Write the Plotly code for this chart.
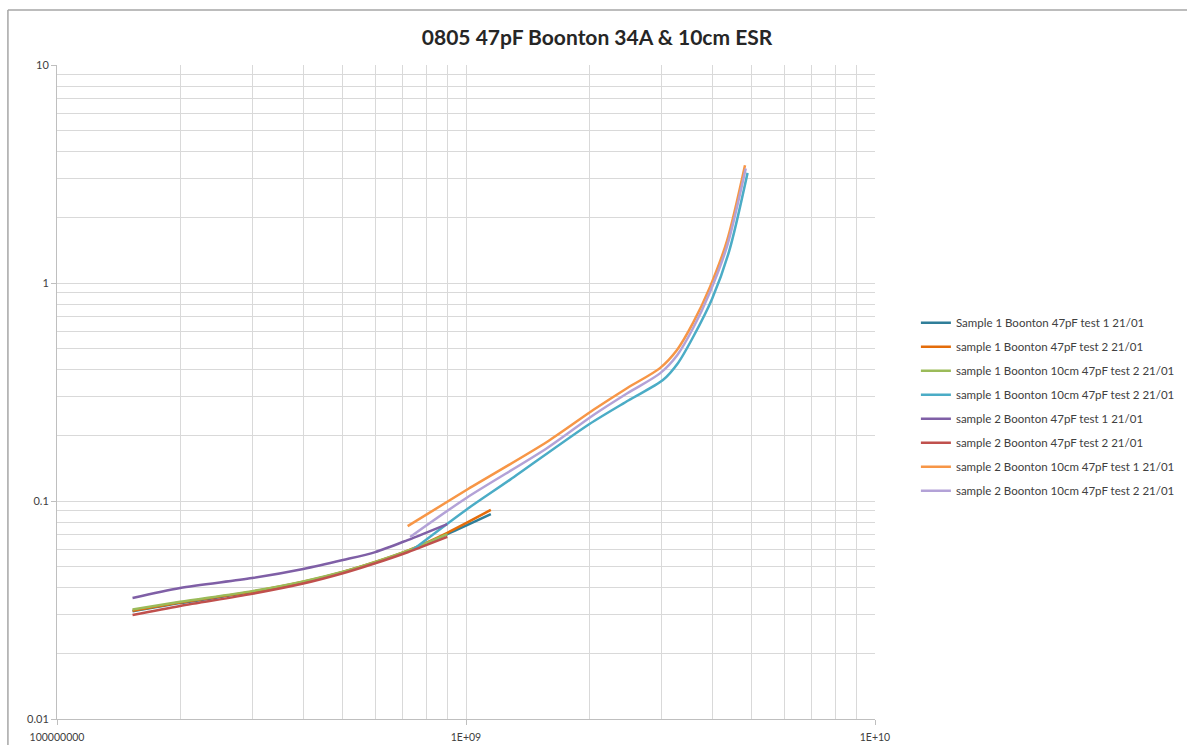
import plotly.graph_objects as go

# ---- data ----
names = [
    "Sample 1 Boonton 47pF test 1 21/01",
    "sample 1 Boonton 47pF test 2 21/01",
    "sample 1 Boonton 10cm 47pF test 2 21/01",
    "sample 1 Boonton 10cm 47pF test 2 21/01",
    "sample 2 Boonton 47pF test 1 21/01",
    "sample 2 Boonton 47pF test 2 21/01",
    "sample 2 Boonton 10cm 47pF test 1 21/01",
    "sample 2 Boonton 10cm 47pF test 2 21/01",
]
colors = ["#2F7E99", "#E46C0A", "#9BBB59", "#4BACC6",
          "#7F5FA6", "#C0504D", "#F79646", "#B3A2D7"]

f_low = [1.53e8, 2.0e8, 3.0e8, 4.0e8, 5.0e8, 6.0e8, 7.2e8, 9.0e8, 1.15e9]
f_low_short = [1.53e8, 2.0e8, 3.0e8, 4.0e8, 5.0e8, 6.0e8, 7.2e8, 9.0e8]

s1_test1 = [0.0312, 0.0340, 0.0382, 0.0424, 0.0471, 0.0522, 0.0588, 0.0705, 0.0871]
s1_test2 = [0.0314, 0.0342, 0.0384, 0.0426, 0.0473, 0.0525, 0.0592, 0.0715, 0.0910]
s1_10cm_test2a = [0.0318, 0.0345, 0.0386, 0.0428, 0.0474, 0.0526, 0.0592, 0.0705]
s2_test1 = [0.0359, 0.0399, 0.0443, 0.0488, 0.0536, 0.0583, 0.0662, 0.0784]
s2_test2 = [0.0300, 0.0330, 0.0375, 0.0418, 0.0466, 0.0518, 0.0582, 0.0684]

f_cyan = [7.4e8, 1.0e9, 1.28e9, 2.0e9, 2.5e9, 3.03e9, 3.3e9, 3.6e9, 4.0e9, 4.4e9, 4.88e9]
s1_10cm_test2b = [0.0596, 0.091, 0.125, 0.225, 0.290, 0.359, 0.430, 0.570, 0.85, 1.40, 3.20]

f_orange = [7.2e8, 1.0e9, 1.58e9, 2.05e9, 2.48e9, 2.98e9, 3.28e9, 3.59e9, 3.95e9, 4.35e9, 4.81e9]
s2_10cm_test1 = [0.0767, 0.112, 0.187, 0.262, 0.330, 0.407, 0.493, 0.656, 0.96, 1.57, 3.47]

f_lav = [7.3e8, 1.0e9, 1.58e9, 2.05e9, 2.48e9, 2.98e9, 3.28e9, 3.59e9, 3.95e9, 4.35e9, 4.83e9]
s2_10cm_test2 = [0.0684, 0.103, 0.175, 0.248, 0.312, 0.385, 0.465, 0.620, 0.91, 1.48, 3.35]

series_x = [f_low, f_low, f_low_short, f_cyan, f_low_short, f_low_short, f_orange, f_lav]
series_y = [s1_test1, s1_test2, s1_10cm_test2a, s1_10cm_test2b,
            s2_test1, s2_test2, s2_10cm_test1, s2_10cm_test2]

x_tickvals = [1e8, 1e9, 1e10]
x_ticktext = ["100000000", "1E+09", "1E+10"]
y_tickvals = [0.01, 0.1, 1, 10]
y_ticktext = ["0.01", "0.1", "1", "10"]

x_minor = [m * 10 ** d for d in (8, 9) for m in range(2, 10)]
y_minor = [m * 10 ** d for d in (-2, -1, 0) for m in range(2, 10)]

fig = go.Figure()
for i, (nm, xs, ys, c) in enumerate(zip(names, series_x, series_y, colors)):
    fig.add_trace(go.Scatter(
        x=xs, y=ys, mode="lines", name=nm, legendgroup=f"g{i}",
        line=dict(color=c, width=2.5, shape="spline", smoothing=0.8),
    ))

grid_c = "#D9D9D9"
fnt = "Lato, Liberation Sans, sans-serif"
fig.update_layout(
    width=1187, height=745,
    margin=dict(l=57, r=312, t=65, b=26, autoexpand=False),
    paper_bgcolor="white", plot_bgcolor="white",
    font=dict(family=fnt, color="#404040", size=10),
    title=dict(text="<b>0805 47pF Boonton 34A &amp; 10cm ESR</b>",
               xref="container", x=0.503, xanchor="center",
               yref="container", y=0.949, yanchor="middle",
               font=dict(size=21, color="#262626", family=fnt)),
    showlegend=True,
    legend=dict(x=1.05, xanchor="left", y=0.628, yanchor="top",
                tracegroupgap=5, font=dict(size=11.5, color="#404040"),
                bgcolor="rgba(0,0,0,0)", itemwidth=30),
    xaxis=dict(type="log", range=[8, 10], tickvals=x_tickvals, ticktext=x_ticktext,
               automargin=False,
               showgrid=True, gridcolor=grid_c, gridwidth=1,
               showline=True, linecolor="#BFBFBF", linewidth=1,
               ticks="outside", ticklen=5, tickcolor="#BFBFBF",
               ticklabelstandoff=3,
               minor=dict(tickvals=x_minor, showgrid=True, gridcolor=grid_c, gridwidth=1, ticks=""),
               zeroline=False, tickfont=dict(size=10.5, color="#404040")),
    yaxis=dict(type="log", range=[-2, 1], tickvals=y_tickvals, ticktext=y_ticktext,
               automargin=False,
               showgrid=True, gridcolor=grid_c, gridwidth=1,
               showline=True, linecolor="#BFBFBF", linewidth=1,
               ticks="outside", ticklen=5, tickcolor="#BFBFBF",
               minor=dict(tickvals=y_minor, showgrid=True, gridcolor=grid_c, gridwidth=1, ticks=""),
               zeroline=False, tickfont=dict(size=11, color="#404040")),
)

# outer chart frame (top and left edges visible)
fig.add_shape(type="line", xref="paper", yref="paper", x0=-0.06, x1=1.45, y0=1.084, y1=1.084,
              line=dict(color="#A6A6A6", width=1.5))
fig.add_shape(type="line", xref="paper", yref="paper", x0=-0.06, x1=-0.06, y0=-0.1, y1=1.084,
              line=dict(color="#A6A6A6", width=1.5))

fig.write_html("out.html")
